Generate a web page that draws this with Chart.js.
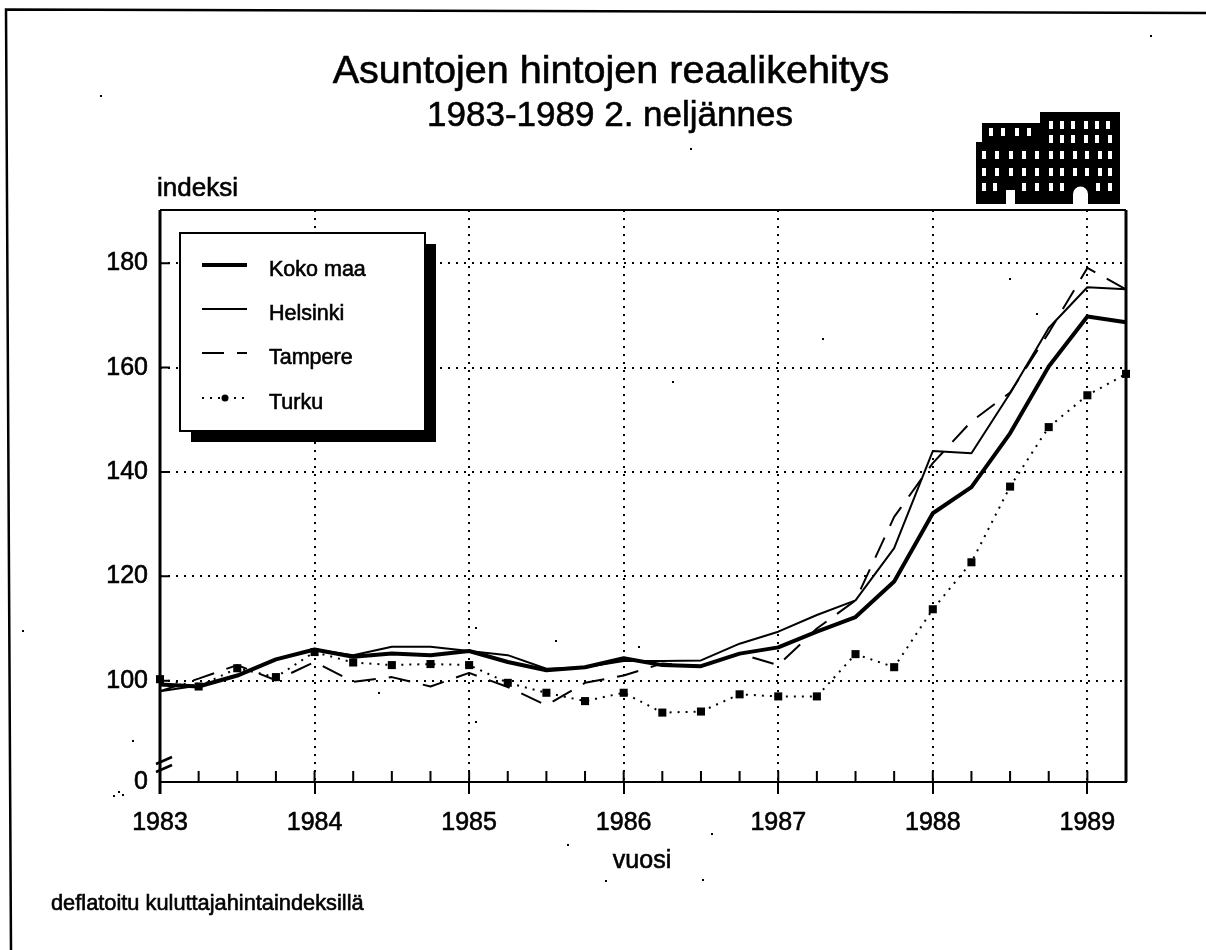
<!DOCTYPE html>
<html>
<head>
<meta charset="utf-8">
<title>Asuntojen hintojen reaalikehitys</title>
<script src="https://cdn.jsdelivr.net/npm/chart.js@4"></script>
<style>
    html, body { margin: 0; padding: 0; background: #fff; }
    #wrap { width: 1206px; height: 950px; }
</style>
</head>
<body>
<div id="wrap"><canvas id="chart" width="1206" height="950"></canvas></div>
<script>
// quarters 1983 Q1 .. 1989 Q2, only the first quarter of a year gets a label
const categories = ['1983', '', '', '', '1984', '', '', '', '1985', '', '', '', '1986', '', '', '', '1987', '', '', '', '1988', '', '', '', '1989', ''];

const kokoMaa = [99.3, 98.9, 101, 104.1, 106, 104.6, 105.2, 104.9, 105.7, 103.6, 102, 102.6, 104.3, 103, 102.8, 105.2, 106.4, 109.4, 112.2, 119, 132.1, 137.1, 147.4, 160.2, 169.8, 168.7];
const helsinki = [98, 99.1, 101, 104.1, 106, 104.9, 106.5, 106.5, 105.7, 104.9, 102.3, 102.6, 103.8, 103.8, 103.9, 107.1, 109.4, 112.6, 115.4, 125.4, 144, 143.6, 155.1, 167.6, 175.4, 175];
const tampere = [98, 100.4, 103, 100.1, 103.6, 99.8, 100.7, 98.9, 101.5, 98.8, 95.3, 99.6, 101, 103.3, 102.8, 105.2, 103, 110, 115.4, 131.4, 141.7, 149.7, 155.2, 166.7, 179.1, 175];
const turku = [100.3, 98.9, 102.4, 100.7, 105.5, 103.5, 103, 103.2, 103, 99.6, 97.7, 96.1, 97.7, 93.9, 94.1, 97.4, 97, 97, 105.1, 102.6, 113.7, 122.7, 137.2, 148.6, 154.7, 158.8];

// y axis is broken: the bottom of the scale is printed as 0
const axisBase = 80.6;
const axisTop = 190.2;
const yTicks = [axisBase, 100, 120, 140, 160, 180];
const yTickLabels = ['0', '100', '120', '140', '160', '180'];

const seriesNames = ['Koko maa', 'Helsinki', 'Tampere', 'Turku'];
const seriesWidths = [4, 2, 2, 2];
const seriesDashes = [[], [], [22, 13], [2, 6]];

const FONT = '"Liberation Sans", Arial, sans-serif';

// windows of the building icon, in x offsets from the icon's left edge
const iconRows = [
    { y: 20, xs: [31, 43, 57, 69] },
    { y: 13, xs: [91, 102, 113, 126, 137, 148] },
    { y: 27, xs: [91, 102, 113, 126, 137, 150] },
    { y: 43, xs: [24, 37, 51, 64, 77, 91, 102, 115, 127, 140, 150] },
    { y: 60, xs: [24, 37, 51, 64, 77, 91, 102, 115, 127, 140, 150] },
    { y: 75, xs: [24, 35, 64, 77, 91, 102, 138, 150] }
];

// dust on the scanned sheet
const specks = [[100, 95], [1150, 35], [690, 148], [475, 627], [555, 640], [638, 646], [378, 692], [475, 721], [822, 338], [672, 381], [1036, 313], [1009, 278], [132, 740], [567, 844], [711, 833], [702, 879], [605, 880], [22, 630], [113, 795], [118, 791], [122, 794]];

function text(ctx, str, x, y, size, align) {
    ctx.font = size + 'px ' + FONT;
    ctx.textAlign = align || 'left';
    ctx.textBaseline = 'alphabetic';
    ctx.fillStyle = '#000';
    ctx.strokeStyle = '#000';
    ctx.lineWidth = 0.6;
    ctx.setLineDash([]);
    ctx.fillText(str, x, y);
    ctx.strokeText(str, x, y);
}

function drawIcon(ctx, ox, oy) {
    ctx.fillStyle = '#000';
    ctx.fillRect(ox + 80, oy, 80, 92);
    ctx.fillRect(ox + 22, oy + 11, 58, 20);
    ctx.fillRect(ox + 16, oy + 30, 64, 62);
    ctx.fillStyle = '#fff';
    iconRows.forEach(row => {
        row.xs.forEach(x => ctx.fillRect(ox + x - 2, oy + row.y - 4, 4, 8));
    });
    ctx.fillRect(ox + 46, oy + 78, 9, 14);
    ctx.beginPath();
    ctx.arc(ox + 120.5, oy + 82, 7.5, Math.PI, 0);
    ctx.rect(ox + 113, oy + 82, 15, 10);
    ctx.fill();
}

function drawLegend(ctx) {
    const x = 180, y = 233, w = 245, h = 198;
    ctx.fillStyle = '#000';
    ctx.fillRect(x + 11, y + 11, w, h);
    ctx.fillStyle = '#fff';
    ctx.fillRect(x, y, w, h);
    ctx.strokeStyle = '#000';
    ctx.lineWidth = 2;
    ctx.setLineDash([]);
    ctx.strokeRect(x, y, w, h);
    const rowY = [265, 309, 353, 398];
    seriesNames.forEach((name, i) => {
        ctx.beginPath();
        ctx.strokeStyle = '#000';
        ctx.lineWidth = seriesWidths[i];
        ctx.setLineDash(seriesDashes[i]);
        ctx.moveTo(202, rowY[i]);
        ctx.lineTo(247, rowY[i]);
        ctx.stroke();
        text(ctx, name, 269, rowY[i] + 11, 21.5);
    });
    ctx.fillStyle = '#000';
    ctx.beginPath();
    ctx.arc(225, rowY[3], 3.5, 0, Math.PI * 2);
    ctx.fill();
}

const decorations = {
    id: 'decorations',
    afterDatasetsDraw(chart) {
        const ctx = chart.ctx;
        const xs = chart.scales.x;
        const ys = chart.scales.y;
        const area = chart.chartArea;
        ctx.save();
        ctx.strokeStyle = '#000';
        ctx.setLineDash([]);

        // plot frame
        ctx.lineWidth = 2;
        ctx.beginPath();
        ctx.moveTo(area.left, area.top);
        ctx.lineTo(area.right, area.top);
        ctx.moveTo(area.left, area.bottom);
        ctx.lineTo(area.right, area.bottom);
        ctx.stroke();
        ctx.lineWidth = 3;
        ctx.beginPath();
        ctx.moveTo(area.left, area.top);
        ctx.lineTo(area.left, area.bottom + 12);
        ctx.moveTo(area.right, area.top);
        ctx.lineTo(area.right, area.bottom);
        ctx.stroke();

        // inner ticks on both axes
        ctx.lineWidth = 2;
        ctx.beginPath();
        categories.forEach((c, i) => {
            const px = xs.getPixelForValue(i);
            ctx.moveTo(px, area.bottom);
            ctx.lineTo(px, area.bottom - 11);
        });
        yTicks.slice(1).forEach(v => {
            const py = ys.getPixelForValue(v);
            ctx.moveTo(area.left, py);
            ctx.lineTo(area.left + 10, py);
        });
        ctx.stroke();

        // axis break
        ctx.lineWidth = 2.5;
        ctx.beginPath();
        ctx.moveTo(area.left - 4, area.bottom - 18);
        ctx.lineTo(area.left + 12, area.bottom - 25);
        ctx.moveTo(area.left - 4, area.bottom - 10);
        ctx.lineTo(area.left + 12, area.bottom - 17);
        ctx.stroke();

        drawLegend(ctx);
        ctx.restore();
    },
    afterDraw(chart) {
        const ctx = chart.ctx;
        ctx.save();
        // page frame of the scanned sheet
        ctx.strokeStyle = '#000';
        ctx.lineWidth = 2.5;
        ctx.beginPath();
        ctx.moveTo(1206, 13);
        ctx.lineTo(6, 9.5);
        ctx.lineTo(11, 950);
        ctx.stroke();

        text(ctx, 'Asuntojen hintojen reaalikehitys', 611, 83, 39.6, 'center');
        text(ctx, '1983-1989 2. neljännes', 610, 126, 35, 'center');
        text(ctx, 'indeksi', 157, 196, 26);
        text(ctx, 'vuosi', 642, 868, 25, 'center');
        text(ctx, 'deflatoitu kuluttajahintaindeksillä', 51, 910, 21.8);
        drawIcon(ctx, 960, 112);

        ctx.fillStyle = '#000';
        specks.forEach(p => ctx.fillRect(p[0], p[1], 2, 2));
        ctx.restore();
    }
};

new Chart(document.getElementById('chart'), {
    type: 'line',
    data: {
        labels: categories,
        datasets: [
            { label: seriesNames[0], data: kokoMaa },
            { label: seriesNames[1], data: helsinki },
            { label: seriesNames[2], data: tampere },
            { label: seriesNames[3], data: turku, pointRadius: 5.7, pointStyle: 'rect', pointBackgroundColor: '#000', pointBorderWidth: 0 }
        ].map((ds, i) => Object.assign({
            borderColor: '#000',
            borderWidth: seriesWidths[i],
            borderDash: seriesDashes[i],
            borderJoinStyle: 'round',
            pointRadius: 0,
            tension: 0,
            clip: false
        }, ds))
    },
    options: {
        responsive: false,
        animation: false,
        layout: { padding: { left: 100, top: 210, right: 80, bottom: 88 } },
        plugins: { legend: { display: false }, tooltip: { enabled: false } },
        scales: {
            x: {
                type: 'category',
                afterFit: scale => { scale.height = 80; },
                grid: {
                    color: ctx => (categories[ctx.index] ? '#000' : 'rgba(0,0,0,0)'),
                    lineWidth: 2,
                    tickColor: ctx => (categories[ctx.index] ? '#000' : 'rgba(0,0,0,0)'),
                    tickLength: 12,
                    tickWidth: 2,
                    tickBorderDash: []
                },
                border: { color: '#000', width: 2, dash: [2, 6] },
                ticks: {
                    autoSkip: false,
                    maxRotation: 0,
                    color: '#000',
                    padding: 14,
                    textStrokeColor: '#000',
                    textStrokeWidth: 0.6,
                    font: { family: FONT, size: 25 }
                }
            },
            y: {
                min: axisBase,
                max: axisTop,
                afterFit: scale => { scale.width = 60; },
                afterBuildTicks: scale => { scale.ticks = yTicks.map(v => ({ value: v })); },
                grid: {
                    color: ctx => (ctx.tick && ctx.tick.value === axisBase ? 'rgba(0,0,0,0)' : '#000'),
                    lineWidth: 2,
                    drawTicks: false
                },
                border: { display: false, dash: [2, 6] },
                ticks: {
                    color: '#000',
                    padding: 12,
                    textStrokeColor: '#000',
                    textStrokeWidth: 0.6,
                    font: { family: FONT, size: 25 },
                    callback: value => yTickLabels[yTicks.indexOf(value)]
                }
            }
        }
    },
    plugins: [decorations]
});
</script>
</body>
</html>
